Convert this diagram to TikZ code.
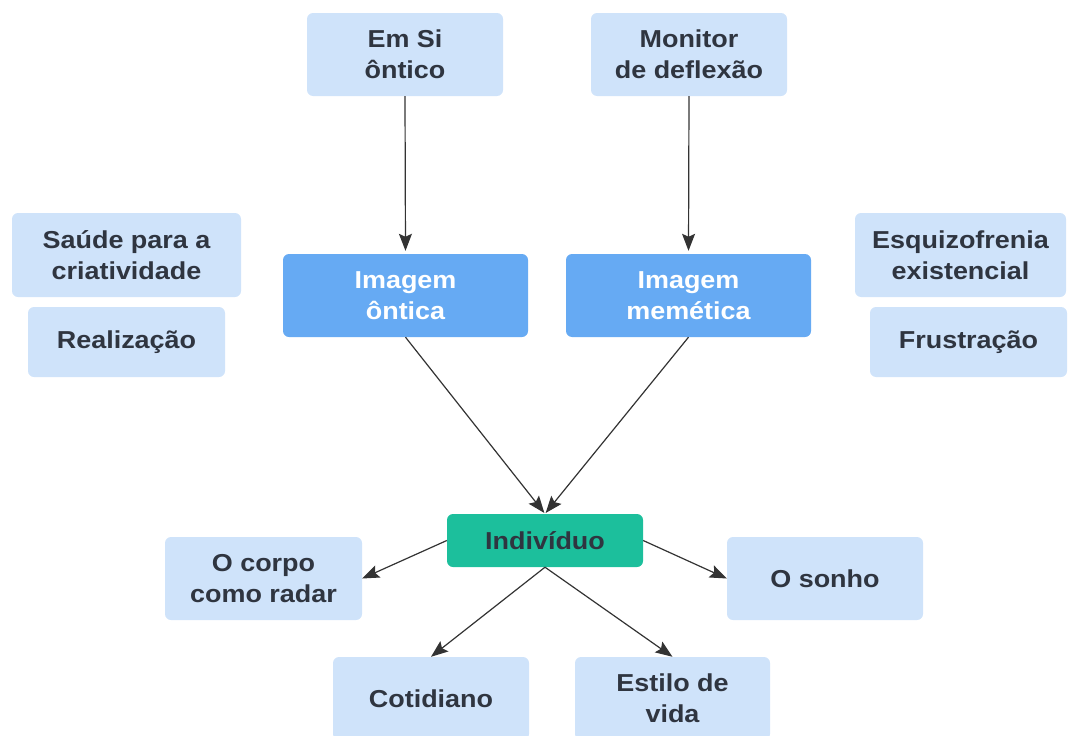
\documentclass[tikz,border=0pt]{standalone}
\usepackage{fontspec}
\setmainfont{Liberation Sans}[FakeStretch=1.1]
\usetikzlibrary{arrows.meta}
\definecolor{lightbox}{HTML}{CFE3FA}
\definecolor{midbox}{HTML}{66AAF3}
\definecolor{tealbox}{HTML}{1CBF9C}
\definecolor{txt}{HTML}{2F3540}
\definecolor{arr}{HTML}{333333}
\begin{document}
\begin{tikzpicture}[x=1pt,y=-1pt,
  box/.style={rectangle, rounded corners=6pt, draw=none, align=center,
    inner sep=0pt, font=\bfseries\fontsize{24.5}{31}\selectfont},
  lb/.style={box, fill=lightbox, text=txt},
  mb/.style={box, fill=midbox, text=white},
  tb/.style={box, fill=tealbox, text=txt},
  con/.style={draw=arr, line width=1.2pt, -{Stealth[length=17pt,width=13pt,inset=3pt]}}
]
\useasboundingbox (0,0) rectangle (1077,736);
\clip (0,0) rectangle (1077,736);
\node[lb, minimum width=196pt, minimum height=83pt] (emsi) at (405,54.5) {Em Si\\ôntico};
\node[lb, minimum width=196pt, minimum height=83pt] (monitor) at (689,54.5) {Monitor\\de deflexão};
\node[lb, minimum width=229pt, minimum height=84pt] (saude) at (126.5,255) {Saúde para a\\criatividade};
\node[lb, minimum width=197pt, minimum height=70pt] (realiz) at (126.5,342) {Realização};
\node[mb, minimum width=245pt, minimum height=83pt] (imgont) at (405.5,295.5) {Imagem\\ôntica};
\node[mb, minimum width=245pt, minimum height=83pt] (imgmem) at (688.5,295.5) {Imagem\\memética};
\node[lb, minimum width=211pt, minimum height=84pt] (esq) at (960.5,255) {Esquizofrenia\\existencial};
\node[lb, minimum width=197pt, minimum height=70pt] (frust) at (968.5,342) {Frustração};
\node[tb, minimum width=196pt, minimum height=53pt] (indiv) at (545,540.5) {Indivíduo};
\node[lb, minimum width=197pt, minimum height=83pt] (corpo) at (263.5,578.5) {O corpo\\como radar};
\node[lb, minimum width=196pt, minimum height=83pt] (sonho) at (825,578.5) {O sonho};
\node[lb, minimum width=196pt, minimum height=83pt] (cotid) at (431,698.5) {Cotidiano};
\node[lb, minimum width=195pt, minimum height=83pt] (estilo) at (672.5,698.5) {Estilo de\\vida};

\draw[con, shorten >=3pt] (emsi.south) -- (imgont.north);
\draw[con, shorten >=3pt] (monitor.south) -- (imgmem.north);
\draw[con, shorten >=1pt] (imgont.south) -- (indiv.north);
\draw[con, shorten >=1pt] (imgmem.south) -- (indiv.north);
\draw[con] (indiv.west) -- (corpo.east);
\draw[con] (indiv.east) -- (sonho.west);
\draw[con] (indiv.south) -- (cotid.north);
\draw[con] (indiv.south) -- (estilo.north);
\end{tikzpicture}
\end{document}
